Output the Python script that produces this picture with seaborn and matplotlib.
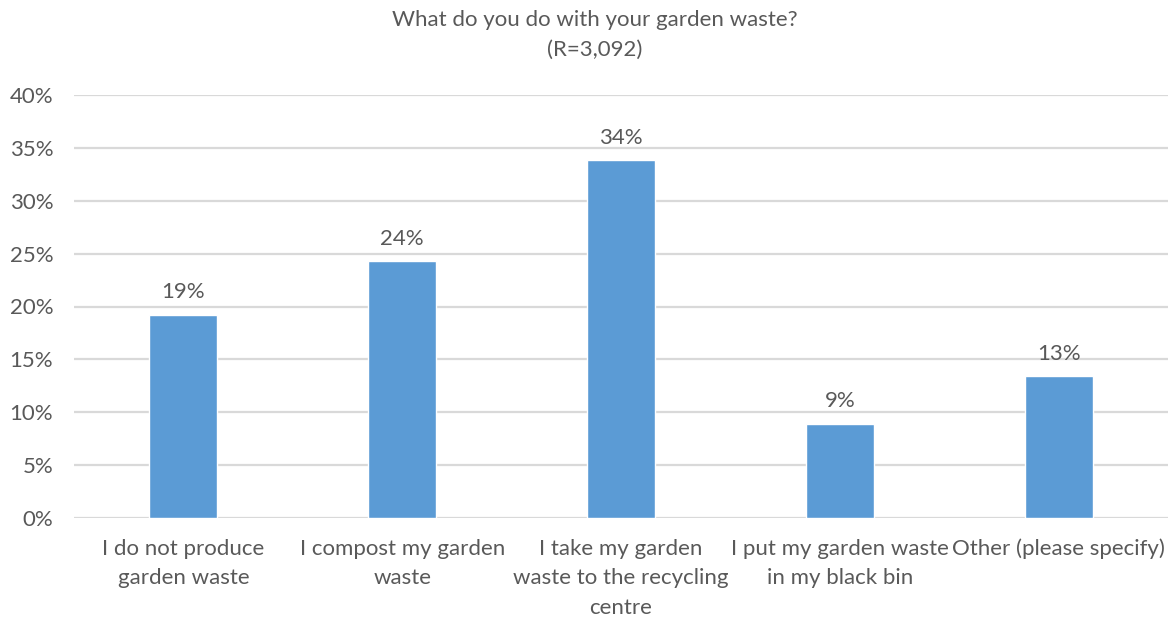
import matplotlib
matplotlib.use("Agg")
import matplotlib.pyplot as plt
import seaborn as sns
import pandas as pd
from matplotlib.ticker import PercentFormatter

categories = [
    "I do not produce\ngarden waste",
    "I compost my garden\nwaste",
    "I take my garden\nwaste to the recycling\ncentre",
    "I put my garden waste\nin my black bin",
    "Other (please specify)",
]
shares = [19.2, 24.3, 33.85, 8.9, 13.4]
y_ticks = [0, 5, 10, 15, 20, 25, 30, 35, 40]

title = "What do you do with your garden waste?\n(R=3,092)"

sns.set_theme(style="white")
plt.rcParams["font.family"] = ["Lato", "DejaVu Sans"]

text_color = "#595959"
bar_color = "#5B9BD5"
grid_color = "#D9D9D9"
fs = 16

df = pd.DataFrame({"category": categories, "share": shares})

fig = plt.figure(figsize=(11.75, 6.21), dpi=100)
ax = fig.add_axes([74 / 1175, 1 - 518 / 621, (1168 - 74) / 1175, (518 - 95) / 621])

sns.barplot(data=df, x="category", y="share", color=bar_color, width=0.31,
            saturation=1, ax=ax, zorder=3)

ax.set_ylim(0, 40)
ax.set_yticks(y_ticks)
ax.yaxis.set_major_formatter(PercentFormatter(decimals=0))
ax.grid(axis="y", color=grid_color, linewidth=1.6, zorder=0)
ax.set_axisbelow(True)
for s in ax.spines.values():
    s.set_visible(False)
ax.set_xlabel("")
ax.set_ylabel("")
ax.tick_params(axis="both", length=0, labelsize=fs, colors=text_color)
ax.tick_params(axis="y", pad=15)
ax.tick_params(axis="x", pad=15)
for lbl in ax.get_xticklabels():
    lbl.set_linespacing(1.6)

for patch, v in zip(ax.patches, shares):
    ax.annotate(f"{round(v):.0f}%", (patch.get_x() + patch.get_width() / 2, v),
                xytext=(0, 9), textcoords="offset points", ha="center",
                va="bottom", fontsize=fs, color=text_color)

fig.text(0.506, 1 - 35 / 621, title, ha="center", va="center",
         fontsize=fs, color=text_color, linespacing=1.6)

fig.savefig("out.png", dpi=100, facecolor="white")
